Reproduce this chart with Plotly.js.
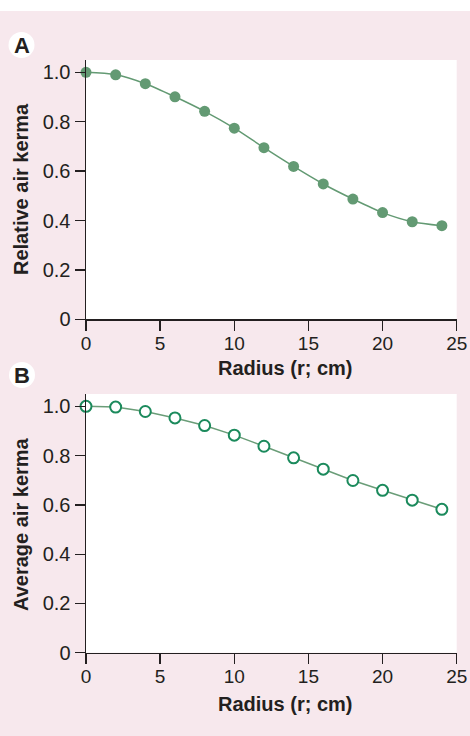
<!DOCTYPE html>
<html>
<head>
<meta charset="utf-8">
<script src="https://cdn.plot.ly/plotly-3.0.1.min.js"></script>
<style>html,body{margin:0;padding:0;background:#f7e8ed;}#chart{width:470px;height:736px;}</style>
</head>
<body>
<div id="chart"></div>
<script>
// Data
const radius = [0, 2, 4, 6, 8, 10, 12, 14, 16, 18, 20, 22, 24];
const relativeAirKerma = [1.0, 0.99, 0.954, 0.901, 0.842, 0.774, 0.695, 0.619, 0.548, 0.487, 0.432, 0.395, 0.379];
const averageAirKerma = [1.0, 0.997, 0.979, 0.953, 0.922, 0.883, 0.838, 0.791, 0.745, 0.699, 0.659, 0.619, 0.582];
const xTickVals = [0, 5, 10, 15, 20, 25];
const xTickText = ['0', '5', '10', '15', '20', '25'];
const yTickVals = [0, 0.2, 0.4, 0.6, 0.8, 1.0];
const yTickText = ['0', '0.2', '0.4', '0.6', '0.8', '1.0'];
const titleA = 'Relative air kerma';
const titleB = 'Average air kerma';
const xTitle = 'Radius (r; cm)';

const W = 470, H = 736;
const px = x => x / W;
const py = y => 1 - y / H;

const dark = '#231f20';
const font = 'Liberation Sans, Arial, sans-serif';

const traceA = {
  x: radius, y: relativeAirKerma, xaxis: 'x', yaxis: 'y',
  type: 'scatter', mode: 'lines+markers', cliponaxis: false,
  line: {color: '#639a73', width: 1.5, shape: 'spline', smoothing: 0.8},
  marker: {color: '#639a73', size: 11, line: {width: 0}}
};
const traceB = {
  x: radius, y: averageAirKerma, xaxis: 'x2', yaxis: 'y2',
  type: 'scatter', mode: 'lines+markers', cliponaxis: false,
  line: {color: '#6a9d78', width: 1.5},
  marker: {color: '#ffffff', size: 11, line: {color: '#1b8a5c', width: 2}}
};

function xax(anchor) {
  return {
    domain: [px(86), px(456.7)], anchor: anchor, range: [0, 25],
    tickvals: xTickVals, ticktext: xTickText,
    ticks: 'outside', ticklen: 10, tickwidth: 1.3, tickcolor: dark,
    ticklabelstandoff: -4,
    showline: true, linecolor: dark, linewidth: 1.5,
    showgrid: false, zeroline: false,
    tickfont: {family: font, size: 19, color: dark}
  };
}
function yax(anchor, top, bottom) {
  return {
    domain: [py(bottom), py(top)], anchor: anchor, range: [0, 1.05],
    tickvals: yTickVals, ticktext: yTickText,
    ticks: 'outside', ticklen: 10, tickwidth: 1.3, tickcolor: dark,
    showline: true, linecolor: dark, linewidth: 1.5,
    showgrid: false, zeroline: false,
    tickfont: {family: font, size: 20, color: dark}
  };
}

const ann = (text, x, y, size, extra) => Object.assign({
  text: text, x: px(x), y: py(y), xref: 'paper', yref: 'paper',
  showarrow: false, xanchor: 'center', yanchor: 'middle',
  font: {family: font, size: size, color: dark, weight: 'bold'}
}, extra || {});

const layout = {
  width: W, height: H,
  margin: {l: 0, r: 0, t: 0, b: 0},
  paper_bgcolor: '#f7e8ed', plot_bgcolor: '#ffffff',
  showlegend: false,
  xaxis: xax('y'), yaxis: yax('x', 60, 319.3),
  xaxis2: xax('y2'), yaxis2: yax('x2', 394, 652.7),
  shapes: [
    {type: 'rect', xref: 'paper', yref: 'paper', x0: 0, x1: 1, y0: py(11), y1: 1,
     fillcolor: '#ffffff', line: {width: 0}, layer: 'below'},
    {type: 'circle', xref: 'paper', yref: 'paper', x0: px(8.5), x1: px(34.5), y0: py(58), y1: py(32),
     fillcolor: '#ffffff', line: {width: 0}, layer: 'above'},
    {type: 'circle', xref: 'paper', yref: 'paper', x0: px(9), x1: px(35), y0: py(388), y1: py(362),
     fillcolor: '#ffffff', line: {width: 0}, layer: 'above'}
  ],
  annotations: [
    ann('A', 21.5, 45.5, 22),
    ann('B', 22, 375.5, 22),
    ann(titleA, 21, 189, 20, {textangle: -90}),
    ann(titleB, 21, 524, 20, {textangle: -90}),
    ann(xTitle, 285, 368, 20),
    ann(xTitle, 285, 704, 20)
  ]
};

Plotly.newPlot('chart', [traceA, traceB], layout, {displayModeBar: false, staticPlot: true});
</script>
</body>
</html>
